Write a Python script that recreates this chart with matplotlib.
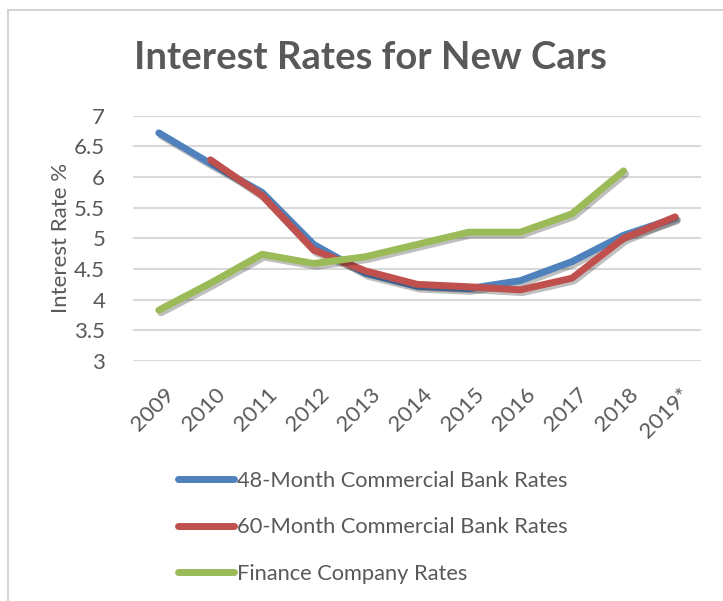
import numpy as np
import matplotlib
matplotlib.use("Agg")
import matplotlib.pyplot as plt
import matplotlib.patheffects as pe
import matplotlib.transforms as mtransforms
from matplotlib.lines import Line2D
from matplotlib.patches import Rectangle

plt.rcParams['font.family'] = ['Lato', 'DejaVu Sans']

years = ['2009', '2010', '2011', '2012', '2013', '2014', '2015', '2016', '2017', '2018', '2019*']
rate_48 = [6.72, 6.22, 5.75, 4.90, 4.43, 4.22, 4.18, 4.31, 4.62, 5.05, 5.33]
rate_60 = [np.nan, 6.28, 5.70, 4.81, 4.47, 4.25, 4.21, 4.16, 4.35, 5.00, 5.35]
finance = [3.83, 4.27, 4.74, 4.59, 4.70, 4.90, 5.10, 5.10, 5.40, 6.10, np.nan]

series = [
    ('48-Month Commercial Bank Rates', rate_48, '#4F81BD'),
    ('60-Month Commercial Bank Rates', rate_60, '#C0504D'),
    ('Finance Company Rates', finance, '#9BBB59'),
]

text_gray = '#595959'
W, H = 723, 601

fig = plt.figure(figsize=(W / 100, H / 100), dpi=100)

# chart frame, kept behind the axes
fig.patches.append(Rectangle((8 / W, -0.05), 1.0, 1 - 10 / H + 0.05,
                             transform=fig.transFigure, facecolor='white',
                             edgecolor='#d4d4d4', linewidth=1.5, zorder=-5))

ax = fig.add_axes([133 / W, 1 - 361 / H, (701 - 133) / W, (361 - 115.7) / H])
ax.set_facecolor('none')

x = np.arange(len(years))
shadow = [pe.SimpleLineShadow(offset=(1.5, -2), shadow_color='k', alpha=0.25), pe.Normal()]
for label, vals, color in series:
    ax.plot(x, vals, color=color, lw=5, label=label,
            solid_capstyle='round', solid_joinstyle='round',
            path_effects=shadow, zorder=3)

ax.set_xlim(-0.5, len(years) - 0.5)
ax.set_ylim(3, 7)
ax.set_yticks(np.arange(3, 7.01, 0.5))
ax.set_yticklabels(['3', '3.5', '4', '4.5', '5', '5.5', '6', '6.5', '7'])
ax.set_xticks(x)
ax.set_xticklabels(years, rotation=45, ha='right', rotation_mode='anchor')
ax.tick_params(axis='both', length=0, labelsize=16, colors=text_gray)
ax.tick_params(axis='y', pad=20)
ax.tick_params(axis='x', pad=17)
# nudge the slanted year labels a little to the right
nudge = mtransforms.ScaledTranslation(5 / 100, 0, fig.dpi_scale_trans)
for lbl in ax.get_xticklabels():
    lbl.set_transform(lbl.get_transform() + nudge)
ax.grid(axis='y', color='#d9d9d9', lw=1.5)
ax.set_axisbelow(True)
for s in ax.spines.values():
    s.set_visible(False)

ax.set_ylabel('Interest Rate %', fontsize=16, color=text_gray, labelpad=2)

fig.text(370 / W, 1 - 58 / H, 'Interest Rates for New Cars', ha='center', va='center',
         fontsize=27.5, fontweight='bold', color=text_gray)

leg_handles = [Line2D([], [], color=c, lw=5, solid_capstyle='round') for _, _, c in series]
leg = fig.legend(leg_handles, [s[0] for s in series], loc='upper left',
                 bbox_to_anchor=(178 / W, 1 - 471 / H), frameon=False, fontsize=15.75,
                 handlelength=2.55, handletextpad=0.15, labelspacing=1.2,
                 borderpad=0, borderaxespad=0)
for t in leg.get_texts():
    t.set_color(text_gray)

fig.savefig('out.png', dpi=100)
